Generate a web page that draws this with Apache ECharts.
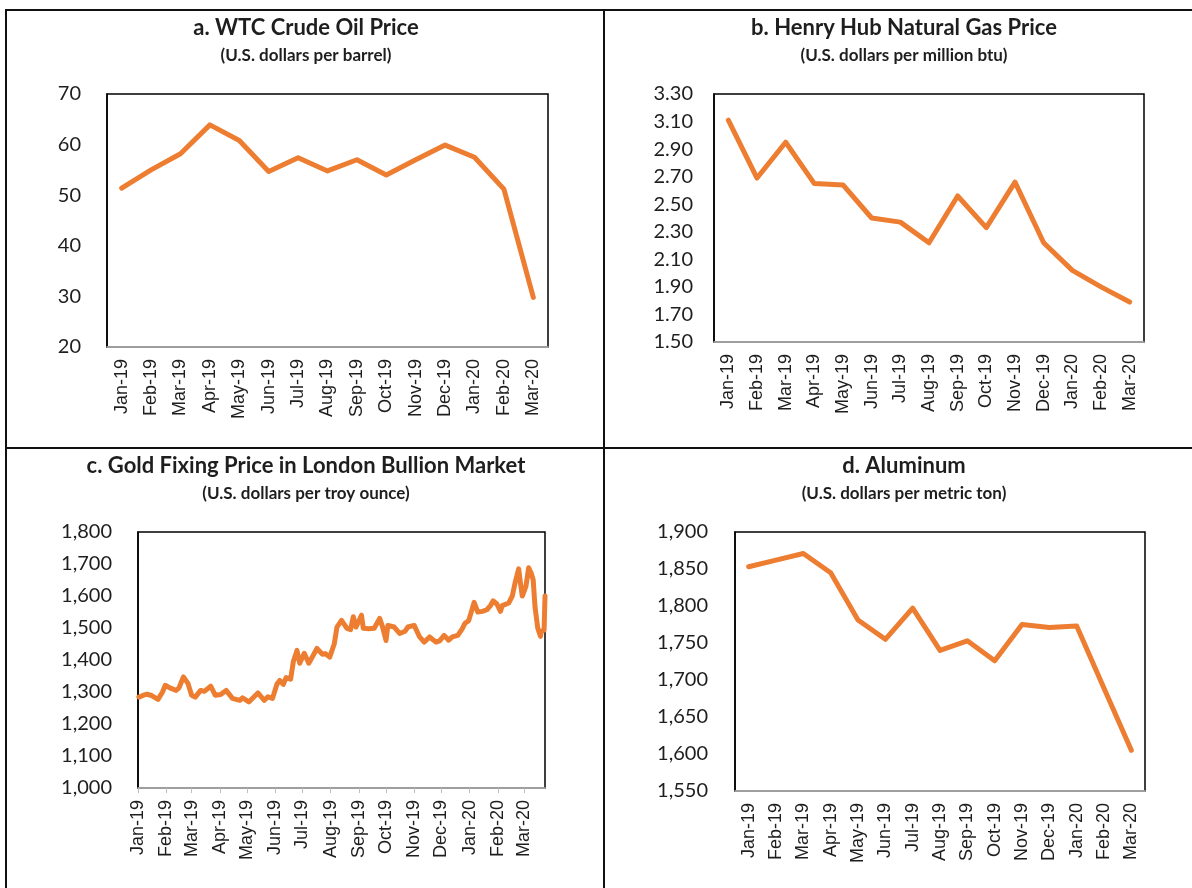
<!DOCTYPE html>
<html>
<head>
<meta charset="UTF-8">
<title>Commodity prices</title>
<script src="https://cdn.jsdelivr.net/npm/echarts@6/dist/echarts.min.js"></script>
<style>
body{margin:0;background:#fff}
#main{position:absolute;left:0;top:0;width:1192px;height:888px}
.ln{position:absolute;background:#111}
</style>
</head>
<body>
<div id="main"></div>
<!-- panel frame -->
<div class="ln" style="left:5px;top:9px;width:2px;height:879px"></div>
<div class="ln" style="left:5px;top:9px;width:1187px;height:2px"></div>
<div class="ln" style="left:603px;top:9px;width:2px;height:879px"></div>
<div class="ln" style="left:5px;top:447px;width:1187px;height:2px"></div>
<script>
var months = ['Jan-19','Feb-19','Mar-19','Apr-19','May-19','Jun-19','Jul-19','Aug-19','Sep-19','Oct-19','Nov-19','Dec-19','Jan-20','Feb-20','Mar-20'];

var oilPrice = [51.4, 55.0, 58.2, 63.9, 60.8, 54.7, 57.4, 54.8, 57.0, 54.0, 57.0, 59.9, 57.5, 51.2, 29.8];
var gasPrice = [3.11, 2.69, 2.95, 2.65, 2.64, 2.40, 2.37, 2.22, 2.56, 2.33, 2.66, 2.22, 2.02, 1.90, 1.79];
var aluminumPrice = [1853, 1862, 1871, 1845, 1781, 1755, 1797, 1740, 1753, 1726, 1775, 1771, 1773, 1689, 1605];

var goldDates = ['2019-01-02','2019-01-07','2019-01-11','2019-01-16','2019-01-23','2019-01-28','2019-01-31',
  '2019-02-05','2019-02-12','2019-02-15','2019-02-20','2019-02-25','2019-03-01','2019-03-05','2019-03-11',
  '2019-03-15','2019-03-22','2019-03-27','2019-04-02','2019-04-08','2019-04-15','2019-04-23','2019-04-26',
  '2019-05-03','2019-05-08','2019-05-13','2019-05-20','2019-05-24','2019-05-29','2019-06-03','2019-06-06',
  '2019-06-10','2019-06-13','2019-06-18','2019-06-21','2019-06-25','2019-06-28','2019-07-03','2019-07-08',
  '2019-07-12','2019-07-17','2019-07-23','2019-07-26','2019-07-31','2019-08-05','2019-08-08','2019-08-13',
  '2019-08-19','2019-08-23','2019-08-26','2019-08-29','2019-09-04','2019-09-06','2019-09-12','2019-09-18',
  '2019-09-24','2019-09-27','2019-10-01','2019-10-03','2019-10-10','2019-10-16','2019-10-22','2019-10-25',
  '2019-11-01','2019-11-07','2019-11-12','2019-11-18','2019-11-25','2019-11-29','2019-12-04','2019-12-09',
  '2019-12-13','2019-12-19','2019-12-24','2019-12-27','2019-12-31','2020-01-06','2020-01-10','2020-01-15',
  '2020-01-20','2020-01-24','2020-01-27','2020-01-31','2020-02-04','2020-02-06','2020-02-13','2020-02-17',
  '2020-02-20','2020-02-24','2020-02-26','2020-02-28','2020-03-03','2020-03-06','2020-03-09','2020-03-11',
  '2020-03-13','2020-03-16','2020-03-19','2020-03-20','2020-03-23','2020-03-24'];
var goldPrice = [1284,1290,1293,1289,1277,1300,1321,
  1313,1305,1312,1347,1327,1290,1284,1305,
  1302,1318,1290,1292,1305,1280,1274,1282,
  1269,1283,1297,1274,1285,1280,1325,1336,
  1324,1345,1340,1395,1430,1390,1421,1390,
  1410,1436,1418,1420,1409,1450,1503,1524,
  1499,1495,1535,1503,1540,1499,1498,1499,
  1530,1505,1461,1508,1503,1483,1490,1503,
  1508,1472,1456,1472,1456,1460,1477,1462,
  1472,1477,1498,1515,1523,1580,1550,1552,
  1557,1570,1585,1575,1552,1570,1578,1600,
  1640,1685,1640,1600,1630,1688,1670,1650,
  1566,1500,1474,1490,1493,1600];

// axis ranges: [min, max, interval]
var oilAxis = [20, 70, 10];
var gasTicks = [1.5, 1.7, 1.9, 2.1, 2.3, 2.5, 2.7, 2.9, 3.1, 3.3];
var goldAxis = [1000, 1800, 100];
var aluminumAxis = [1550, 1900, 50];
var goldMonthStarts = ['2019-01-01','2019-02-01','2019-03-01','2019-04-01','2019-05-01','2019-06-01','2019-07-01',
  '2019-08-01','2019-09-01','2019-10-01','2019-11-01','2019-12-01','2020-01-01','2020-02-01','2020-03-01'];

var orange = '#ED7D31';
var ink = '#1e1e1e';

function parseDay(s){
  var p = s.split('-');
  return new Date(+p[0], +p[1]-1, +p[2]).getTime();
}
function comma(v){
  return String(Math.round(v)).replace(/\B(?=(\d{3})+(?!\d))/g, ',');
}

var xLabel = {rotate:90, interval:0, margin:12, fontFamily:'Liberation Sans', fontSize:18, color:ink};
var xLine = {lineStyle:{color:'#bfbfbf', width:1.5}};
var xTick = {length:5, lineStyle:{color:'#bfbfbf', width:1}};

function catAxis(i){
  return {gridIndex:i, type:'category', data:months, boundaryGap:true,
    axisLine:xLine, axisTick:xTick, axisLabel:xLabel};
}
function valAxis(i, min, max, interval, fmt, margin){
  return {gridIndex:i, type:'value', min:min, max:max, interval:interval,
    splitLine:{show:false},
    axisLine:{show:true, lineStyle:{color:'#000', width:1.5}},
    axisTick:{show:false},
    axisLabel:{margin:margin, fontFamily:'Lato', fontSize:20, color:ink, formatter:fmt}};
}
function lineSeries(x, y, data, w){
  return {type:'line', xAxisIndex:x, yAxisIndex:y, data:data, symbol:'none',
    lineStyle:{color:orange, width:w, join:'round', cap:'round'}, animation:false};
}
function heading(x, y, text, size){
  return {type:'text', x:x, y:y, silent:true,
    style:{text:text, fontFamily:'Lato', fontWeight:'bold', fontSize:size, fill:ink, align:'center', verticalAlign:'middle'}};
}

var gridBase = {show:true, borderColor:'#000', borderWidth:1.5, backgroundColor:'transparent', containLabel:false};

var goldTimes = goldDates.map(parseDay);
var goldTickTimes = goldMonthStarts.map(parseDay);

var chart = echarts.init(document.getElementById('main'));
chart.setOption({
  animation:false,
  backgroundColor:'#fff',
  grid:[
    Object.assign({left:107, top:94, width:441, height:253}, gridBase),
    Object.assign({left:714, top:94, width:430, height:248}, gridBase),
    Object.assign({left:138, top:532, width:407, height:256}, gridBase),
    Object.assign({left:735, top:532, width:410, height:259}, gridBase)
  ],
  xAxis:[
    catAxis(0),
    catAxis(1),
    {gridIndex:2, type:'value', min:goldTickTimes[0], max:goldTimes[goldTimes.length-1],
      splitLine:{show:false}, axisLine:xLine,
      axisTick:Object.assign({customValues:goldTickTimes}, xTick),
      axisLabel:Object.assign({}, xLabel, {customValues:goldTickTimes, formatter:function(v){
        var d = new Date(v);
        return months[(d.getFullYear()-2019)*12 + d.getMonth()];
      }})},
    catAxis(3)
  ],
  yAxis:[
    valAxis(0, oilAxis[0], oilAxis[1], oilAxis[2], null, 26),
    Object.assign(valAxis(1, gasTicks[0], gasTicks[gasTicks.length-1], null, null, 21),
      {axisLabel:{customValues:gasTicks, margin:21, fontFamily:'Lato', fontSize:20, color:ink,
        formatter:function(v){return v.toFixed(2);}}}),
    valAxis(2, goldAxis[0], goldAxis[1], goldAxis[2], comma, 26),
    valAxis(3, aluminumAxis[0], aluminumAxis[1], aluminumAxis[2], comma, 27)
  ],
  series:[
    lineSeries(0, 0, oilPrice, 5),
    lineSeries(1, 1, gasPrice, 5),
    lineSeries(2, 2, goldTimes.map(function(t, i){ return [t, goldPrice[i]]; }), 5),
    lineSeries(3, 3, aluminumPrice, 5)
  ],
  graphic:[
    heading(306, 28, 'a. WTC Crude Oil Price', 22),
    heading(306, 56, '(U.S. dollars per barrel)', 17),
    heading(904, 28, 'b. Henry Hub Natural Gas Price', 22),
    heading(904, 56, '(U.S. dollars per million btu)', 17),
    heading(306, 466, 'c. Gold Fixing Price in London Bullion Market', 22),
    heading(306, 494, '(U.S. dollars per troy ounce)', 17),
    heading(904, 466, 'd. Aluminum', 22),
    heading(904, 494, '(U.S. dollars per metric ton)', 17)
  ]
});
</script>
</body>
</html>
